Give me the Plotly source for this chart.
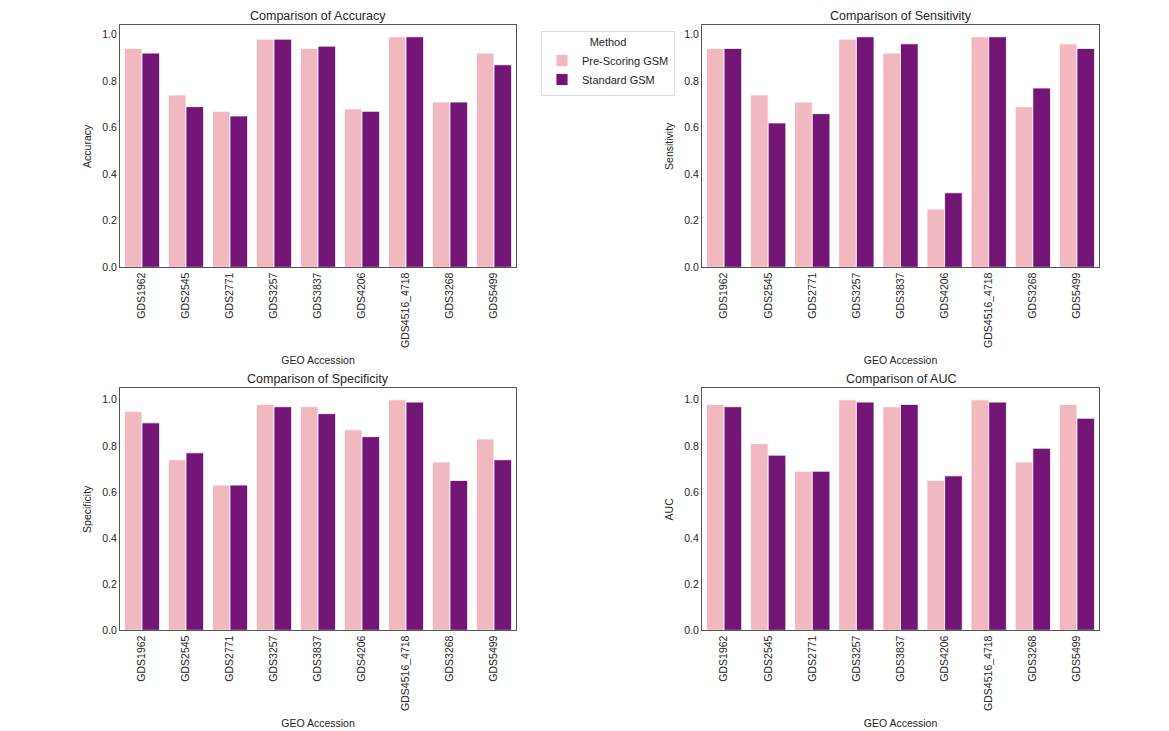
import plotly.graph_objects as go
from plotly.subplots import make_subplots

categories = ["GDS1962", "GDS2545", "GDS2771", "GDS3257", "GDS3837",
              "GDS4206", "GDS4516_4718", "GDS3268", "GDS5499"]

acc_pre = [0.94, 0.74, 0.67, 0.98, 0.94, 0.68, 0.99, 0.71, 0.92]
acc_std = [0.92, 0.69, 0.65, 0.98, 0.95, 0.67, 0.99, 0.71, 0.87]

sens_pre = [0.94, 0.74, 0.71, 0.98, 0.92, 0.25, 0.99, 0.69, 0.96]
sens_std = [0.94, 0.62, 0.66, 0.99, 0.96, 0.32, 0.99, 0.77, 0.94]

spec_pre = [0.95, 0.74, 0.63, 0.98, 0.97, 0.87, 1.00, 0.73, 0.83]
spec_std = [0.90, 0.77, 0.63, 0.97, 0.94, 0.84, 0.99, 0.65, 0.74]

auc_pre = [0.98, 0.81, 0.69, 1.00, 0.97, 0.65, 1.00, 0.73, 0.98]
auc_std = [0.97, 0.76, 0.69, 0.99, 0.98, 0.67, 0.99, 0.79, 0.92]

metrics = ["Accuracy", "Sensitivity", "Specificity", "AUC"]
series_pre = [acc_pre, sens_pre, spec_pre, auc_pre]
series_std = [acc_std, sens_std, spec_std, auc_std]

PINK = "#F2B8C0"
PURPLE = "#731574"
TXT = "#262626"
FONT = "Liberation Sans, Arial, sans-serif"

fig = make_subplots(rows=2, cols=2)

for i, (m, pre, std) in enumerate(zip(metrics, series_pre, series_std)):
    r, c = i // 2 + 1, i % 2 + 1
    fig.add_trace(go.Bar(x=categories, y=pre, name="Pre-Scoring GSM",
                         marker=dict(color=PINK, line=dict(color="white", width=0.8)),
                         showlegend=(i == 0), legendgroup="pre"), row=r, col=c)
    fig.add_trace(go.Bar(x=categories, y=std, name="Standard GSM",
                         marker=dict(color=PURPLE, line=dict(color="white", width=0.8)),
                         showlegend=(i == 0), legendgroup="std"), row=r, col=c)

xdoms = [[120 / 1169, 516 / 1169], [702 / 1169, 1099 / 1169]]
ydoms = [[1 - 269.5 / 731, 1 - 25.5 / 731], [1 - 635.5 / 731, 1 - 391.5 / 731]]

for i, (m, pre, std) in enumerate(zip(metrics, series_pre, series_std)):
    r, c = i // 2, i % 2
    n = i + 1
    xa = "xaxis" if n == 1 else f"xaxis{n}"
    ya = "yaxis" if n == 1 else f"yaxis{n}"
    ymax = max(max(pre), max(std)) * 1.05
    fig.layout[xa].update(
        domain=xdoms[c], tickangle=-90, showline=True, mirror=True,
        linecolor="#555555", linewidth=1.2, showgrid=False, ticks="",
        tickfont=dict(size=10.5, color=TXT, family=FONT),
        title=dict(text="GEO Accession", font=dict(size=10.5, color=TXT, family=FONT), standoff=9),
        range=[-0.5, 8.5])
    fig.layout[ya].update(
        domain=ydoms[r], showline=True, mirror=True,
        linecolor="#555555", linewidth=1.2, showgrid=False, zeroline=False, ticks="",
        range=[0, ymax], tickvals=[0, 0.2, 0.4, 0.6, 0.8, 1.0],
        ticktext=["0.0", "0.2", "0.4", "0.6", "0.8", "1.0"],
        tickfont=dict(size=10.5, color=TXT, family=FONT),
        title=dict(text=m, font=dict(size=10.5, color=TXT, family=FONT), standoff=8))
    xc = (xdoms[c][0] + xdoms[c][1]) / 2
    fig.add_annotation(text=f"Comparison of {m}", x=xc, y=ydoms[r][1],
                       xref="paper", yref="paper", xanchor="center", yanchor="bottom",
                       yshift=0, showarrow=False,
                       font=dict(size=12.5, color=TXT, family=FONT))

fig.update_layout(
    width=1169, height=731,
    margin=dict(l=0, r=0, t=0, b=0),
    paper_bgcolor="white", plot_bgcolor="white",
    barmode="group", bargap=0.2, bargroupgap=0.0,
    font=dict(family=FONT, color=TXT),
    legend=dict(
        x=541 / 1169, y=1 - 31 / 731, xanchor="left", yanchor="top",
        bgcolor="white", bordercolor="#DDDDDD", borderwidth=1,
        font=dict(size=11, color=TXT, family=FONT),
        title=dict(text="Method", side="top center", font=dict(size=11, color=TXT, family=FONT)),
        itemwidth=30, tracegroupgap=0,
    ),
)

fig.write_html("out.html")
